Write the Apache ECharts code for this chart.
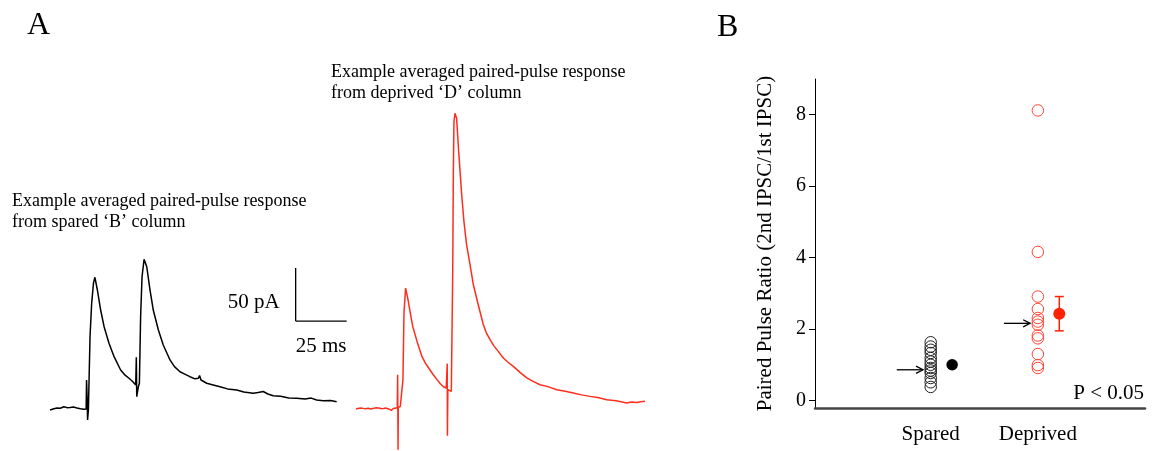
<!DOCTYPE html>
<html>
<head>
<meta charset="utf-8">
<script src="https://cdn.jsdelivr.net/npm/echarts@6/dist/echarts.min.js"></script>
<style>html,body{margin:0;padding:0;background:#fff;}#c{width:1155px;height:451px;}</style>
</head>
<body>
<div id="c"></div>
<script>
// ---------- DATA ----------
// Panel A: averaged paired-pulse traces, [time (ms), current (pA)]
const sparedTrace = [
  [1.0,-1.4],[2.5,-0.5],[4.4,0.5],[6.0,0.2],[7.8,1.7],[9.3,0.8],[10.8,0.9],[12.5,1.5],[14.2,0.5],[15.9,-0.2],
  [17.6,-0.8],[18.7,-0.5],[18.9,26.9],[19.2,8],[19.4,-10.8],[19.8,-1.4],[20.6,67.7],[21.4,99.2],[22.3,118.4],
  [23.0,123.8],[24.2,111.8],[25.8,92.9],[27.5,77.2],[29.9,61.5],[32.4,48.9],[35.6,36.3],[37.5,32.0],[39.7,28.5],
  [41.5,25.5],[43.0,22.2],[43.2,21.2],[43.3,48.3],[43.4,30],[43.5,11.1],[44.3,20.6],[44.8,23.8],[45.4,86.6],
  [46.1,124.3],[47.1,140.8],[48.4,133.8],[50.0,111.8],[51.6,92.9],[54.1,74.1],[56.5,59.9],[59.8,45.8],[62.0,39.5],
  [64.7,34.7],[67.0,32.5],[69.6,30.0],[72.0,28.0],[73.7,28.5],[74.3,31.1],[75.0,26.9],[77.8,23.8],[80.5,22.5],
  [84.3,20.6],[88.0,18.5],[92.5,17.5],[96.0,15.5],[100.6,14.3],[103.0,15.0],[105.5,16.0],[107.8,13.7],[110.4,12.1],
  [114.0,11.5],[118.0,10.0],[121.9,9.6],[126.0,9.0],[129.0,9.8],[131.7,8.0],[135.0,7.2],[138.5,7.5],[141.5,6.4]
];
const deprivedTrace = [
  [1.0,-0.3],[2.5,0.4],[3.9,0.5],[5.5,-0.2],[7.0,0.3],[8.2,-0.3],[9.8,0.3],[11.0,0.9],[12.1,0.7],[13.2,0.1],
  [14.2,0],[15.3,0.6],[16.2,0.3],[17.2,-0.4],[18.3,-1.6],[19.3,0.2],[20.2,1.2],[21.2,0.9],[21.4,32.1],[21.5,-5],
  [21.6,-38.7],[21.7,0.9],[22.7,2.2],[23.5,1.6],[24.0,27.4],[24.5,90.3],[25.3,113.9],[26.5,102.8],[27.6,90.3],
  [28.8,77.6],[30.9,63.5],[33.3,49.3],[35.0,43.0],[36.6,38.4],[38.5,33.0],[40.7,27.4],[42.3,23.5],[44.0,20.5],
  [45.2,19.5],[45.6,19.0],[45.7,42.5],[45.75,5],[45.8,-25.5],[46.0,17.9],[46.7,18.6],[47.7,16.3],[48.4,129.5],
  [48.7,223.9],[49.0,271],[49.5,279],[50.3,274.2],[51.1,249],[52.0,223.9],[52.8,201.9],[53.9,176.7],[55.2,154.7],
  [56.9,135.8],[58.5,117],[60.9,98.1],[63.4,79.2],[65.0,71.0],[66.7,65.1],[68.5,59.5],[70.7,54.1],[73.2,47.8],
  [75.5,43.8],[78.1,39.9],[81.5,34.0],[84.7,29],[88.0,25.5],[91.2,22.6],[95.0,20.8],[99.4,17.9],[103.5,16.5],
  [107.5,14.8],[111.5,13.0],[115.7,11.6],[119.5,10.5],[123.9,8.5],[128.5,7.5],[133.7,5.4],[136.0,6.2],[138.6,5.9],
  [140.5,6.5],[142.6,6.9]
];
const scaleBarMs = 25;
const scaleBarPa = 50;

// Panel B: paired pulse ratios
const groupNames = ['Spared', 'Deprived'];
const sparedRatios = [1.63, 1.51, 1.42, 1.33, 1.19, 1.09, 1.0, 0.91, 0.84, 0.77, 0.63, 0.51, 0.38];
const deprivedRatios = [8.12, 4.16, 2.91, 2.56, 2.31, 2.21, 2.12, 1.82, 1.74, 1.30, 0.99, 0.91];
const groupMeans = [1.0, 2.43];
const groupSems = [0.05, 0.48];
const exampleCellRatios = [0.86, 2.16];   // arrows mark the example cells
const yTicks = [0, 2, 4, 6, 8];
const pValueText = 'P < 0.05';

// ---------- LAYOUT ----------
const FONT = "'Liberation Serif','Times New Roman',serif";
const groupX = [1, 2];
const meanOffset = 0.2;
const arrowFrom = -0.317, arrowTo = -0.072;
const scaleAnchor = [121.4, 82.5];

const chart = echarts.init(document.getElementById('c'), null, {renderer: 'canvas'});

const errData = groupX.map((x, i) => [x + meanOffset, groupMeans[i], groupSems[i]]);
const arrowData = groupX.map((x, i) => [x + arrowFrom, x + arrowTo, exampleCellRatios[i]]);

const hiddenX = (min, max) => ({type: 'value', min, max, show: false});

const option = {
  animation: false,
  backgroundColor: '#fff',
  grid: [
    {left: 48, top: 249.5, width: 295.8, height: 190.8},
    {left: 354, top: 106.9, width: 295.8, height: 344.5},
    {left: 815, top: 79, right: 10, bottom: 43}
  ],
  xAxis: [
    Object.assign(hiddenX(0, 145), {gridIndex: 0}),
    Object.assign(hiddenX(0, 145), {gridIndex: 1}),
    {
      type: 'value', gridIndex: 2, min: -0.08, max: 3.0,
      axisLine: {show: true, onZero: false, lineStyle: {color: '#454545', width: 2.5}},
      axisTick: {show: false},
      splitLine: {show: false},
      axisLabel: {
        customValues: groupX, margin: 16, color: '#000', fontSize: 21, fontFamily: FONT,
        formatter: v => groupNames[groupX.indexOf(v)] || ''
      }
    }
  ],
  yAxis: [
    {type: 'value', gridIndex: 0, min: -30, max: 150, show: false},
    {type: 'value', gridIndex: 1, min: -40, max: 285, show: false},
    {
      type: 'value', gridIndex: 2, min: -0.21, max: 9,
      name: 'Paired Pulse Ratio (2nd IPSC/1st IPSC)',
      nameLocation: 'middle', nameGap: 39,
      nameTextStyle: {fontSize: 21, fontFamily: FONT, color: '#000'},
      axisLine: {show: true, onZero: false, lineStyle: {color: '#000', width: 1}},
      axisTick: {show: true, customValues: yTicks, length: 6, lineStyle: {color: '#000'}},
      splitLine: {show: false},
      axisLabel: {customValues: yTicks, margin: 9, color: '#000', fontSize: 20, fontFamily: FONT}
    }
  ],
  graphic: [
    {type: 'text', left: 27, top: 10, style: {text: 'A', font: '32px ' + FONT, fill: '#000'}},
    {type: 'text', left: 717, top: 12, style: {text: 'B', font: '32px ' + FONT, fill: '#000'}},
    {type: 'text', left: 12, top: 191, style: {text: 'Example averaged paired-pulse response\nfrom spared \u2018B\u2019 column', font: '18px ' + FONT, lineHeight: 21, fill: '#000'}},
    {type: 'text', left: 331, top: 62, style: {text: 'Example averaged paired-pulse response\nfrom deprived \u2018D\u2019 column', font: '18px ' + FONT, lineHeight: 21, fill: '#000'}},
    {type: 'text', right: 11, top: 383, style: {text: pValueText, font: '21px ' + FONT, fill: '#000'}}
  ],
  series: [
    {
      type: 'line', xAxisIndex: 0, yAxisIndex: 0, data: sparedTrace, showSymbol: false,
      lineStyle: {color: '#000', width: 1.5}, silent: true
    },
    {
      type: 'line', xAxisIndex: 1, yAxisIndex: 1, data: deprivedTrace, showSymbol: false,
      lineStyle: {color: '#ff2d1c', width: 1.5}, silent: true
    },
    {
      type: 'custom', xAxisIndex: 0, yAxisIndex: 0, data: [scaleAnchor], silent: true,
      renderItem: (params, api) => {
        const c = api.coord([api.value(0), api.value(1)]);
        const r = api.coord([api.value(0) + scaleBarMs, api.value(1)]);
        const t = api.coord([api.value(0), api.value(1) + scaleBarPa]);
        const ls = {stroke: '#000', lineWidth: 1.3};
        return {type: 'group', children: [
          {type: 'line', shape: {x1: t[0], y1: t[1], x2: c[0], y2: c[1]}, style: ls},
          {type: 'line', shape: {x1: c[0], y1: c[1], x2: r[0], y2: r[1]}, style: ls},
          {type: 'text', x: c[0] - 16, y: (c[1] + t[1]) / 2 + 8, style: {text: scaleBarPa + ' pA', font: '21px ' + FONT, fill: '#000', align: 'right', verticalAlign: 'middle'}},
          {type: 'text', x: (c[0] + r[0]) / 2, y: c[1] + 25, style: {text: scaleBarMs + ' ms', font: '21px ' + FONT, fill: '#000', align: 'center', verticalAlign: 'middle'}}
        ]};
      }
    },
    {
      type: 'scatter', xAxisIndex: 2, yAxisIndex: 2, symbol: 'circle', symbolSize: 11.5,
      data: sparedRatios.map(v => [groupX[0], v]),
      itemStyle: {color: 'rgba(0,0,0,0)', borderColor: '#222', borderWidth: 1, opacity: 1}
    },
    {
      type: 'scatter', xAxisIndex: 2, yAxisIndex: 2, symbol: 'circle', symbolSize: 11.5,
      data: deprivedRatios.map(v => [groupX[1], v]),
      itemStyle: {color: 'rgba(0,0,0,0)', borderColor: '#ff4535', borderWidth: 1, opacity: 1}
    },
    {
      type: 'custom', xAxisIndex: 2, yAxisIndex: 2, data: errData, z: 2, silent: true,
      renderItem: (params, api) => {
        const x = api.value(0), m = api.value(1), s = api.value(2);
        const top = api.coord([x, m + s]), bot = api.coord([x, m - s]);
        const col = params.dataIndex === 0 ? '#000' : '#ff2200';
        const ls = {stroke: col, lineWidth: 1.5};
        return {type: 'group', children: [
          {type: 'line', shape: {x1: top[0], y1: top[1], x2: bot[0], y2: bot[1]}, style: ls},
          {type: 'line', shape: {x1: top[0] - 4.5, y1: top[1], x2: top[0] + 4.5, y2: top[1]}, style: ls},
          {type: 'line', shape: {x1: bot[0] - 4.5, y1: bot[1], x2: bot[0] + 4.5, y2: bot[1]}, style: ls}
        ]};
      }
    },
    {
      type: 'scatter', xAxisIndex: 2, yAxisIndex: 2, symbol: 'circle', z: 3,
      data: groupMeans.map((v, i) => ({value: [groupX[i] + meanOffset, v], symbolSize: i === 0 ? 11.5 : 12,
        itemStyle: {color: i === 0 ? '#000' : '#ff2200', opacity: 1}}))
    },
    {
      type: 'custom', xAxisIndex: 2, yAxisIndex: 2, data: arrowData, silent: true,
      renderItem: (params, api) => {
        const a = api.coord([api.value(0), api.value(2)]);
        const b = api.coord([api.value(1), api.value(2)]);
        const ls = {stroke: '#000', lineWidth: 1.3, fill: null};
        return {type: 'group', children: [
          {type: 'line', shape: {x1: a[0], y1: a[1], x2: b[0], y2: b[1]}, style: ls},
          {type: 'polyline', shape: {points: [[b[0] - 7, b[1] - 3.6], [b[0], b[1]], [b[0] - 7, b[1] + 3.6]]}, style: ls}
        ]};
      }
    }
  ]
};
chart.setOption(option);
</script>
</body>
</html>
